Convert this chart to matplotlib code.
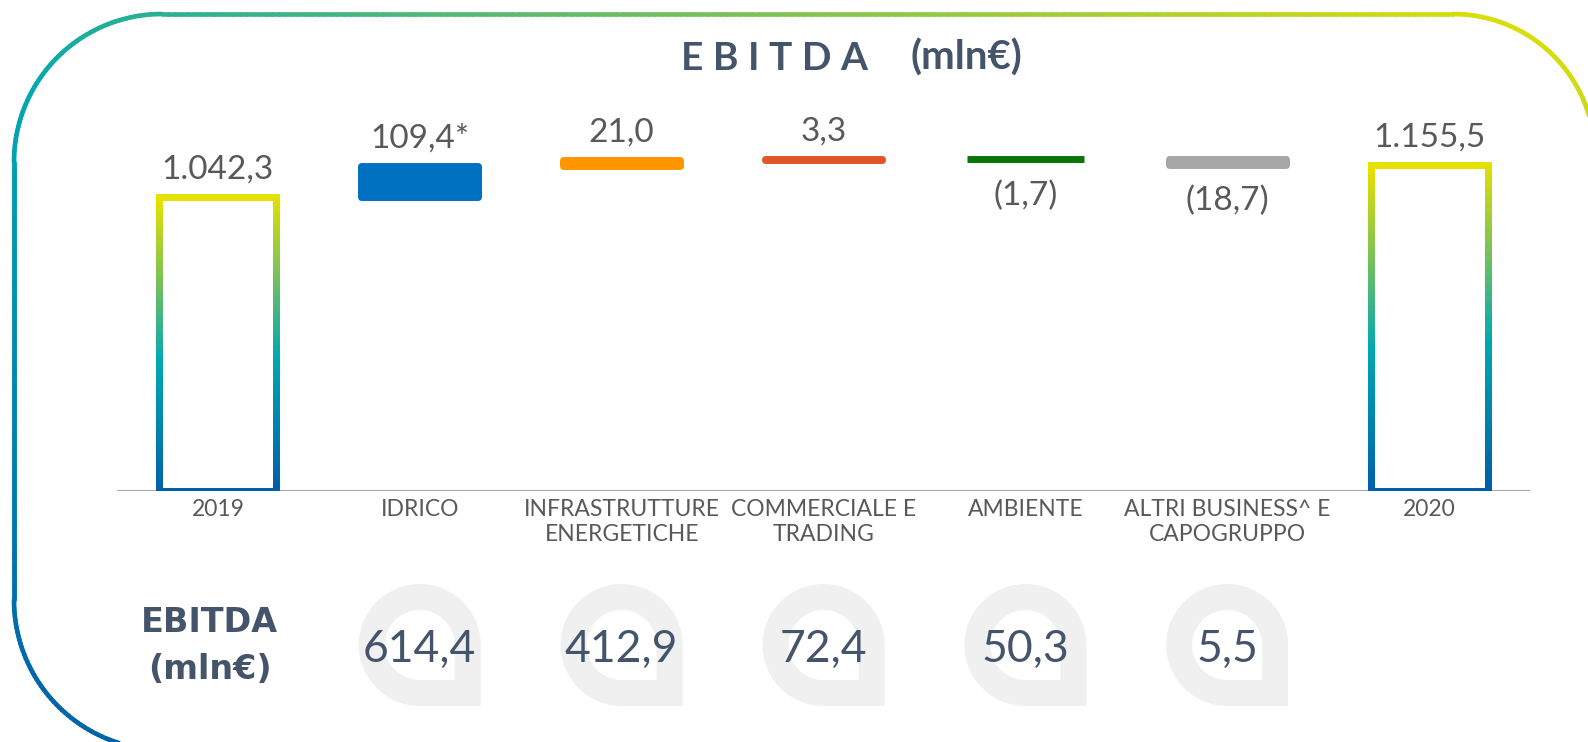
import numpy as np
import matplotlib
matplotlib.use('Agg')
import matplotlib.pyplot as plt
from matplotlib.collections import LineCollection
from matplotlib.colors import LinearSegmentedColormap
from matplotlib.path import Path
from matplotlib.patches import PathPatch

plt.rcParams['font.family'] = ['Lato', 'DejaVu Sans']

# Data
categories = ['2019', 'IDRICO', 'INFRASTRUTTURE\nENERGETICHE', 'COMMERCIALE E\nTRADING',
              'AMBIENTE', 'ALTRI BUSINESS^ E\nCAPOGRUPPO', '2020']
ebitda_2019 = 1042.3
ebitda_2020 = 1155.5
deltas = [109.4, 21.0, 3.3, -1.7, -18.7]
delta_labels = ['109,4*', '21,0', '3,3', '(1,7)', '(18,7)']
total_labels = ['1.042,3', '1.155,5']
delta_colors = ['#0070C0', '#FF9600', '#E2562B', '#087508', '#A6A6A6']
segment_ebitda = ['614,4', '412,9', '72,4', '50,3', '5,5']

GREY = '#595959'
SLATE = '#44546A'
grad = LinearSegmentedColormap.from_list(
    'acea', [(0.0, '#005EAB'), (0.45, '#00A9B1'), (0.7, '#6EBE62'), (1.0, '#E6E100')])

W, H = 1588, 742
fig = plt.figure(figsize=(W / 100, H / 100), dpi=100)

# pixel-space layer for the frame, title and bottom row
ov = fig.add_axes([0, 0, 1, 1])
ov.set_xlim(0, W)
ov.set_ylim(H, 0)
ov.axis('off')

ax = fig.add_axes([117 / W, 251 / H, 1413 / W, 367 / H])
ax.set_xlim(-0.5, 6.5)
ax.set_ylim(0, 1300)
ax.patch.set_visible(False)
for s in ax.spines.values():
    s.set_visible(False)
ax.set_yticks([])

x = np.arange(len(categories))

# rounded frame with diagonal gradient; right and bottom sides run off the canvas,
# so the path is left open at the bottom-right corner
fx0, fx1, fy0, fy1 = 14, 1595, 14, 750
r_tl, r_tr, r_bl = 148, 142, 150
def arc(cx, cy, r, a0, a1):
    a = np.radians(np.linspace(a0, a1, 60))
    return np.column_stack([cx + r * np.cos(a), cy + r * np.sin(a)])
def line(p, q):
    s = np.linspace(0, 1, 200)[:, None]
    return np.asarray(p) + (np.asarray(q) - np.asarray(p)) * s
pts = np.vstack([
    line((fx1 - r_bl, fy1), (fx0 + r_bl, fy1)),
    arc(fx0 + r_bl, fy1 - r_bl, r_bl, 90, 180),
    line((fx0, fy1 - r_bl), (fx0, fy0 + r_tl)),
    arc(fx0 + r_tl, fy0 + r_tl, r_tl, 180, 270),
    line((fx0 + r_tl, fy0), (fx1 - r_tr, fy0)),
    arc(fx1 - r_tr, fy0 + r_tr, r_tr, 270, 360),
    line((fx1, fy0 + r_tr), (fx1, fy1)),
])
segs = np.stack([pts[:-1], pts[1:]], axis=1)
mid = segs.mean(axis=1)
t = np.clip(0.5 + 0.5 * (mid[:, 0] - fx0) / (fx1 - fx0) - 0.5 * (mid[:, 1] - fy0) / (fy1 - fy0), 0, 1)
ov.add_collection(LineCollection(segs, colors=grad(t), linewidths=3.3, capstyle='round'))

# baseline
ax.axhline(0, color='#A6A6A6', lw=1.5, zorder=1)

# start / end totals: white bars with gradient outline
totals = ax.bar([x[0], x[-1]], [ebitda_2019, ebitda_2020], width=0.58, color='white', zorder=2)
for rect, lab in zip(totals, total_labels):
    x0, w, h = rect.get_x(), rect.get_width(), rect.get_height()
    corners = [(x0, 0), (x0, h), (x0 + w, h), (x0 + w, 0), (x0, 0)]
    p = np.vstack([np.column_stack([np.linspace(a[0], b[0], 150), np.linspace(a[1], b[1], 150)])
                   for a, b in zip(corners[:-1], corners[1:])])
    sg = np.stack([p[:-1], p[1:]], axis=1)
    ax.add_collection(LineCollection(sg, colors=grad(sg[:, :, 1].mean(axis=1) / h),
                                     linewidths=5, capstyle='projecting', zorder=3))
    ax.annotate(lab, (rect.get_x() + w / 2, h), xytext=(0, 13), textcoords='offset points',
                ha='center', va='baseline', fontsize=24, color=GREY)

# segment deltas
starts = ebitda_2019 + np.concatenate([[0], np.cumsum(deltas)[:-1]])
ax.bar(x[1:6], deltas, bottom=starts, width=0.58, color=delta_colors, edgecolor=delta_colors,
       linewidth=5, joinstyle='round', zorder=3)
for xi, s0, d, lab in zip(x[1:6], starts, deltas, delta_labels):
    if d >= 0:
        ax.annotate(lab, (xi, s0 + d), xytext=(0, 13), textcoords='offset points',
                    ha='center', va='baseline', fontsize=24, color=GREY)
    else:
        ax.annotate(lab, (xi, s0 + d), xytext=(0, -15), textcoords='offset points',
                    ha='center', va='top', fontsize=24, color=GREY)

ax.set_xticks(x, categories, fontsize=16.5, color=GREY, linespacing=1.2)
ax.tick_params(axis='x', length=0, pad=6)

# title
ov.text(681, 70, 'E B I T D A', fontsize=28, fontweight='bold', color=SLATE,
        ha='left', va='baseline')
ov.text(910, 70, '(mln€)', fontsize=29, fontweight='bold', color=SLATE,
        ha='left', va='baseline')

# bottom row: segment EBITDA inside the logo drops
px = ax.transData.transform(np.column_stack([x, np.zeros(len(x))]))[:, 0]

def drop(cx, cy, rad):
    th = np.linspace(0, 1.5 * np.pi, 90)
    q = np.column_stack([np.cos(th), -np.sin(th)])
    q = np.vstack([q, [[1, 1]]])
    return q * rad + [cx, cy]

for xp, val in zip(px[1:6], segment_ebitda):
    outer = drop(xp, 645, 61)
    inner = drop(xp, 645, 35)[::-1]
    verts = np.vstack([outer, outer[:1], inner, inner[:1]])
    codes = ([Path.MOVETO] + [Path.LINETO] * (len(outer) - 1) + [Path.CLOSEPOLY]
             + [Path.MOVETO] + [Path.LINETO] * (len(inner) - 1) + [Path.CLOSEPOLY])
    ov.add_patch(PathPatch(Path(verts, codes), facecolor='#F0F0F0', edgecolor='none'))
    ov.text(xp, 662, val, fontsize=32, color=SLATE, ha='center', va='baseline')

ov.text(px[0] - 8, 632, 'EBITDA', fontsize=24, fontweight='bold', color=SLATE,
        family=['DejaVu Sans'], ha='center', va='baseline')
ov.text(px[0] - 8, 679, '(mln€)', fontsize=24, fontweight='bold', color=SLATE,
        family=['DejaVu Sans'], ha='center', va='baseline')

fig.savefig('out.png', dpi=100)
